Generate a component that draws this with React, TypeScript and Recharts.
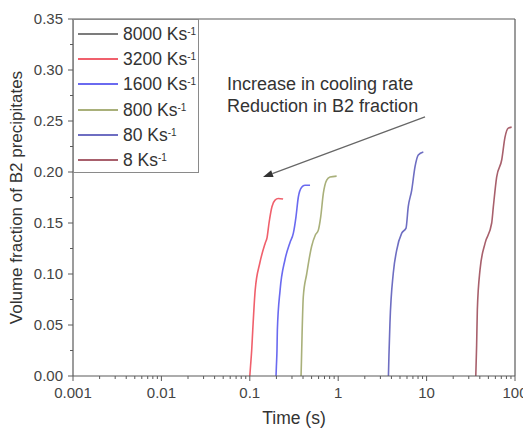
import React from 'react';
import { LineChart, Line, XAxis, YAxis, ReferenceLine, Legend } from 'recharts';

const FONT = '"Liberation Sans", Arial, Helvetica, sans-serif';

// Cooling rates (legend) and colours
const rateLabels = ['8000', '3200', '1600', '800', '80', '8'];
const rateColors = ['#7c7c7c', '#f0606c', '#6a6af0', '#a9b07a', '#6e6ec2', '#a8606c'];

// Time (s) and volume fraction of B2 for each cooling rate
const time8000: number[] = [];
const frac8000: number[] = [];

const time3200 = [0.1, 0.102, 0.105, 0.108, 0.115, 0.13, 0.149, 0.157, 0.165, 0.178, 0.193, 0.21, 0.238];
const frac3200 = [0, 0.01, 0.025, 0.045, 0.084, 0.111, 0.13, 0.136, 0.15, 0.166, 0.1725, 0.174, 0.1735];

const time1600 = [0.198, 0.2, 0.203, 0.205, 0.22, 0.25, 0.285, 0.311, 0.333, 0.354, 0.386, 0.42, 0.48];
const frac1600 = [0, 0.01, 0.025, 0.045, 0.084, 0.114, 0.131, 0.14, 0.156, 0.1755, 0.185, 0.187, 0.187];

const time800 = [0.38, 0.384, 0.39, 0.403, 0.44, 0.5, 0.55, 0.596, 0.634, 0.679, 0.741, 0.808, 0.96];
const frac800 = [0, 0.015, 0.04, 0.078, 0.1, 0.127, 0.138, 0.143, 0.156, 0.179, 0.192, 0.195, 0.196];

const time80 = [3.7, 3.75, 3.85, 4.2, 4.59, 5.23, 5.85, 6.2, 6.78, 7.39, 8.05, 9.18];
const frac80 = [0, 0.02, 0.052, 0.101, 0.1235, 0.14, 0.145, 0.166, 0.182, 0.205, 0.2167, 0.2196];

const time8 = [36, 36.8, 37.5, 40.2, 45.8, 54.5, 56.9, 62, 70.8, 77, 84, 91.6];
const frac8 = [0, 0.03, 0.065, 0.104, 0.13, 0.15, 0.166, 0.195, 0.212, 0.234, 0.243, 0.244];

// Axis ticks
const xMajorTicks = [0.001, 0.01, 0.1, 1, 10, 100];
const xMajorLabels = ['0.001', '0.01', '0.1', '1', '10', '100'];
const xMinorMultipliers = [2, 3, 4, 5, 6, 7, 8, 9];
const yTicks = [0, 0.025, 0.05, 0.075, 0.1, 0.125, 0.15, 0.175, 0.2, 0.225, 0.25, 0.275, 0.3, 0.325, 0.35];

// Annotation
const annotationLines = ['Increase in cooling rate', 'Reduction in B2 fraction'];
const arrowFrom = { x: 9.6, y: 0.254 };
const arrowTo = { x: 0.141, y: 0.195 };

const zip = (t: number[], v: number[]) => t.map((x, i) => ({ t: x, v: v[i] }));

const seriesData = [
  zip(time8000, frac8000),
  zip(time3200, frac3200),
  zip(time1600, frac1600),
  zip(time800, frac800),
  zip(time80, frac80),
  zip(time8, frac8),
];

const xAllTicks: number[] = [];
xMajorTicks.forEach((m, i) => {
  xAllTicks.push(m);
  if (i < xMajorTicks.length - 1) xMinorMultipliers.forEach((k) => xAllTicks.push(+(m * k).toPrecision(6)));
});

const AXIS = '#5a5a5a';
const TICKTXT = '#444';

const XTick = (props: any) => {
  const { x, y, payload } = props;
  const idx = xMajorTicks.findIndex((m) => Math.abs(m - payload.value) / m < 1e-6);
  const major = idx >= 0;
  return (
    <g>
      <line x1={x} x2={x} y1={y} y2={y + (major ? 5 : 3)} stroke={AXIS} strokeWidth={1} />
      {major && (
        <text x={x} y={y + 22} textAnchor="middle" fontSize={15} fontFamily={FONT} fill={TICKTXT}>
          {xMajorLabels[idx]}
        </text>
      )}
    </g>
  );
};

const YTick = (props: any) => {
  const { x, y, payload } = props;
  const major = Math.round(payload.value * 1000) % 50 === 0;
  return (
    <g>
      <line x1={x - (major ? 5 : 3)} x2={x} y1={y} y2={y} stroke={AXIS} strokeWidth={1} />
      {major && (
        <text x={x - 10} y={y + 5} textAnchor="end" fontSize={15} fontFamily={FONT} fill={TICKTXT}>
          {payload.value.toFixed(2)}
        </text>
      )}
    </g>
  );
};

const ArrowShape = (props: any) => {
  const { x1, y1, x2, y2 } = props;
  const dx = x2 - x1;
  const dy = y2 - y1;
  const len = Math.sqrt(dx * dx + dy * dy) || 1;
  const ux = dx / len;
  const uy = dy / len;
  const hl = 10;
  const hw = 3.5;
  const bx = x2 - ux * hl;
  const by = y2 - uy * hl;
  const p1 = `${bx - uy * hw},${by + ux * hw}`;
  const p2 = `${bx + uy * hw},${by - ux * hw}`;
  return (
    <g>
      <line x1={x1} y1={y1} x2={bx} y2={by} stroke="#666" strokeWidth={1.2} />
      <polygon points={`${x2},${y2} ${p1} ${p2}`} fill="#333" />
      {annotationLines.map((s, i) => (
        <text key={i} x={x1 - 198} y={y1 - 27 + i * 22.5} fontSize={18} fontFamily={FONT} fill="#333">
          {s}
        </text>
      ))}
    </g>
  );
};

const LegendBox = () => (
  <div
    style={{
      width: 126,
      height: 154,
      border: '1px solid #8a8a8a',
      boxSizing: 'border-box',
      position: 'relative',
      background: '#fff',
      fontFamily: FONT,
    }}
  >
    {rateLabels.map((r, i) => (
      <div key={r} style={{ position: 'absolute', left: 0, top: 14 + i * 25.2 - 12, height: 24, width: 126 }}>
        <div
          style={{ position: 'absolute', left: 4, top: 11, width: 40, height: 0, borderTop: `2px solid ${rateColors[i]}` }}
        />
        <div style={{ position: 'absolute', left: 49, top: 1, fontSize: 17.5, lineHeight: '22px', color: '#333', whiteSpace: 'nowrap' }}>
          {r} Ks<sup style={{ fontSize: 10, verticalAlign: 'top', position: 'relative', top: -2 }}>-1</sup>
        </div>
      </div>
    ))}
  </div>
);

export default function App() {
  return (
    <div style={{ position: 'absolute', left: 0, top: 0, width: 523, height: 428, background: '#fff' }}>
      <LineChart width={523} height={428} margin={{ top: 19, right: 8, left: 0, bottom: 0 }}>
        <XAxis
          dataKey="t"
          type="number"
          scale="log"
          domain={[0.001, 100]}
          allowDataOverflow
          ticks={xAllTicks}
          interval={0}
          tickSize={0}
          tickMargin={0}
          tickLine={false}
          tick={<XTick />}
          height={52}
          axisLine={{ stroke: AXIS, strokeWidth: 1.2 }}
          label={{
            content: (p: any) => (
              <text
                x={p.viewBox.x + p.viewBox.width / 2}
                y={424}
                textAnchor="middle"
                fontSize={17.5}
                fontFamily={FONT}
                fill="#333"
              >
                Time (s)
              </text>
            ),
          }}
        />
        <YAxis
          type="number"
          domain={[0, 0.35]}
          allowDataOverflow
          ticks={yTicks}
          interval={0}
          tickSize={0}
          tickMargin={0}
          tickLine={false}
          tick={<YTick />}
          width={73}
          axisLine={{ stroke: AXIS, strokeWidth: 1.2 }}
          label={{
            content: (p: any) => {
              const cy = p.viewBox.y + p.viewBox.height / 2;
              return (
                <text
                  x={16}
                  y={cy}
                  transform={`rotate(-90 16 ${cy})`}
                  textAnchor="middle"
                  dominantBaseline="central"
                  fontSize={17}
                  fontFamily={FONT}
                  fill="#333"
                >
                  Volume fraction of B2 precipitates
                </text>
              );
            },
          }}
        />
        <ReferenceLine y={0.35} stroke={AXIS} strokeWidth={1.2} />
        <ReferenceLine x={100} stroke={AXIS} strokeWidth={1.2} />
        {seriesData.map((d, i) => (
          <Line
            key={rateLabels[i]}
            data={d}
            dataKey="v"
            name={`${rateLabels[i]} Ks-1`}
            type="monotone"
            stroke={rateColors[i]}
            strokeWidth={1.6}
            dot={false}
            activeDot={false}
            isAnimationActive={false}
          />
        ))}
        <ReferenceLine segment={[arrowFrom, arrowTo]} shape={<ArrowShape />} />
        <Legend
          layout="vertical"
          align="center"
          verticalAlign="middle"
          content={<LegendBox />}
          wrapperStyle={{ position: 'absolute', left: 73, top: 19, width: 126, height: 154 }}
        />
      </LineChart>
    </div>
  );
}
